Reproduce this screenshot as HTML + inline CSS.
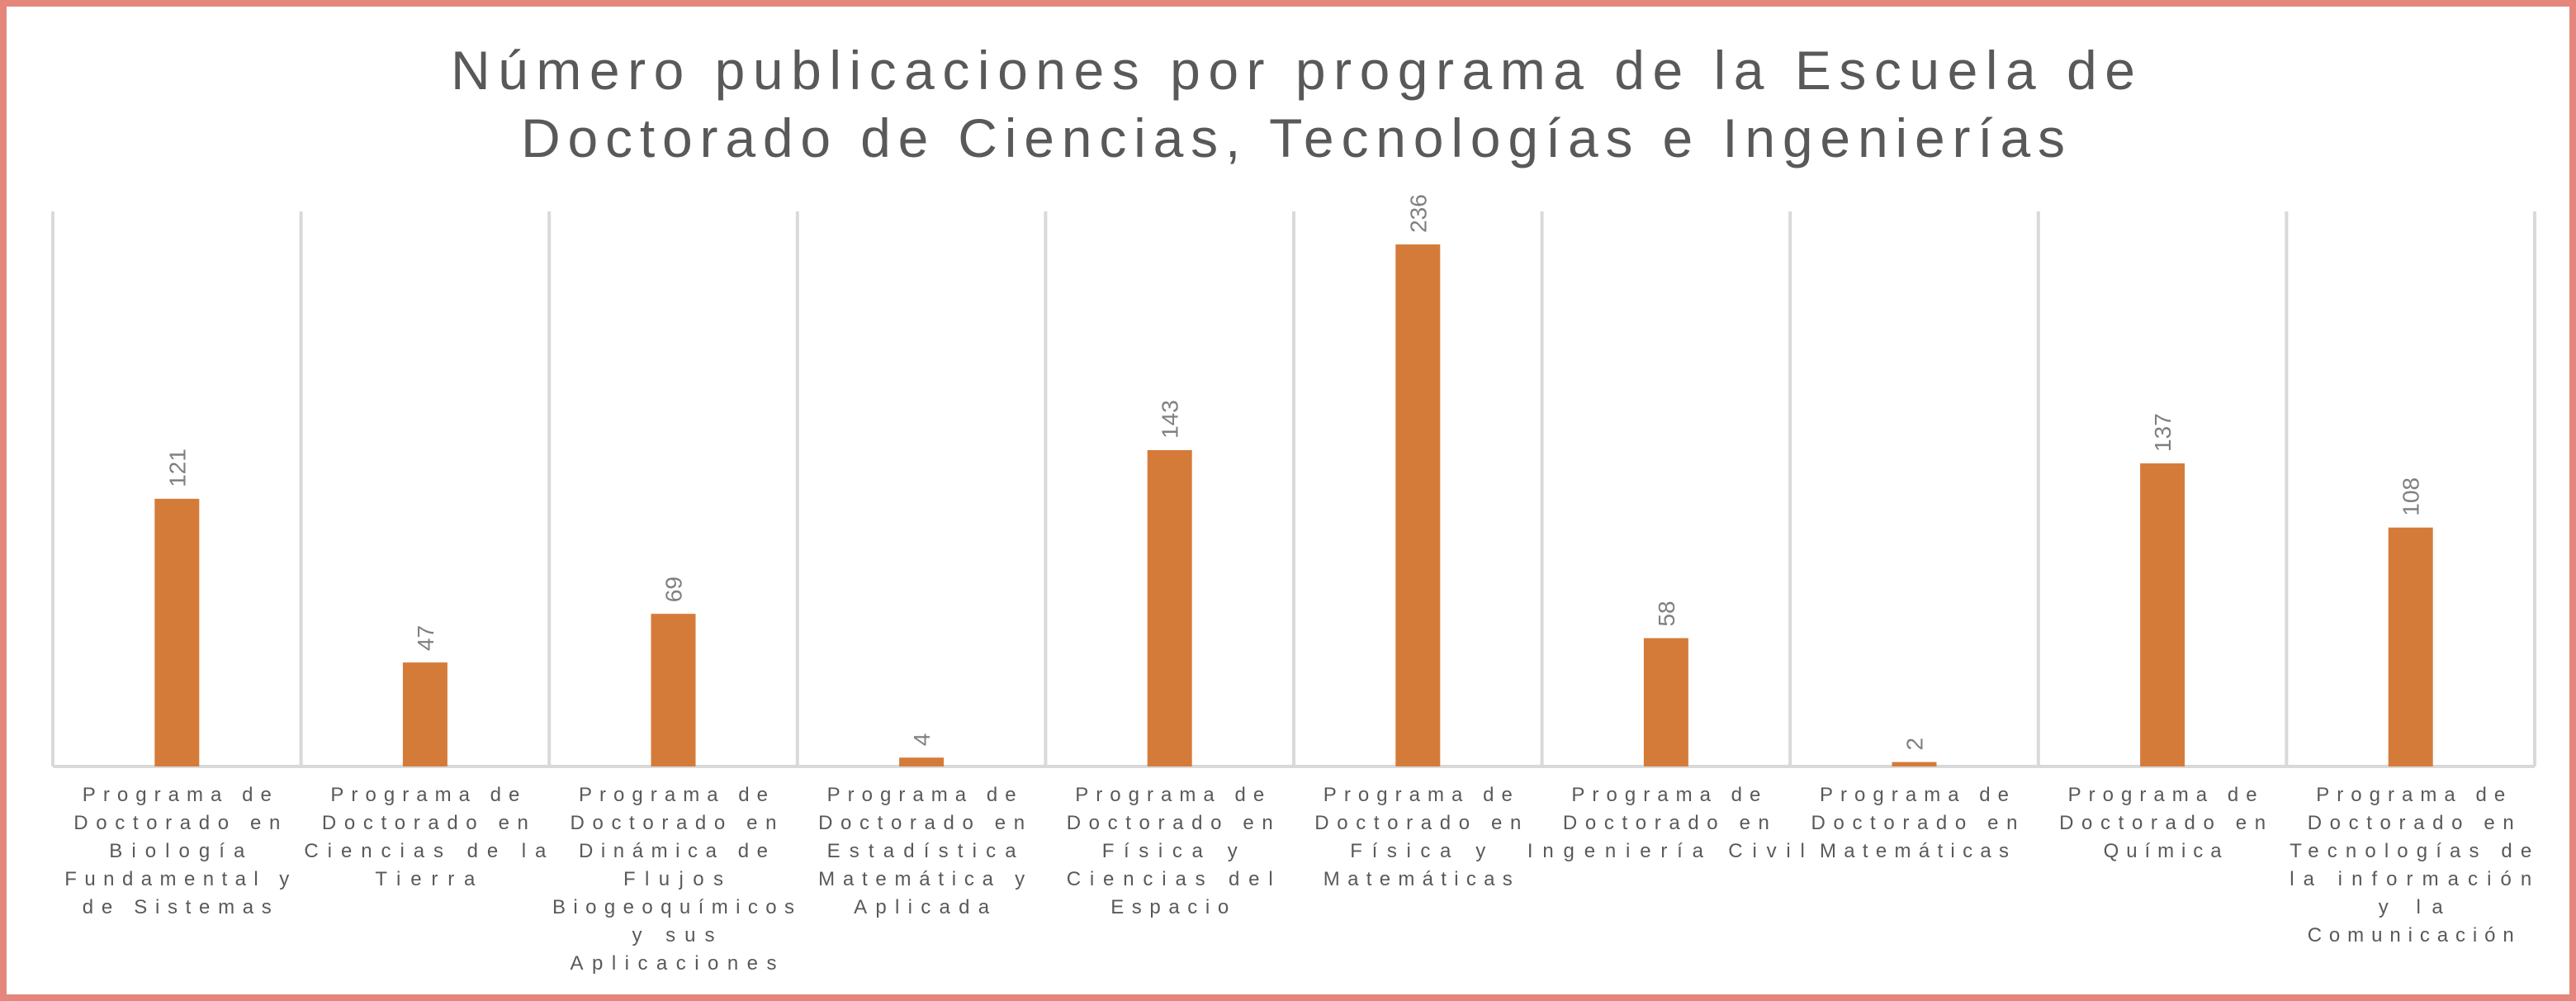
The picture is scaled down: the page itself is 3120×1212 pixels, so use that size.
<!DOCTYPE html>
<html><head><meta charset="utf-8"><style>
html,body{margin:0;padding:0;background:#fff;}
svg{display:block;}
</style></head><body>
<svg id="chart" width="3120" height="1212" viewBox="0 0 3120 1212" xmlns="http://www.w3.org/2000/svg" font-family="'Liberation Sans', sans-serif">
<rect x="4" y="4" width="3112" height="1204" fill="#fff" stroke="#e4867b" stroke-width="8"/>
<g fill="#595959" font-size="66" text-anchor="middle">
<text x="1566" y="108" textLength="2040" lengthAdjust="spacing">Número publicaciones por programa de la Escuela de</text>
<text x="1566" y="190" textLength="1870" lengthAdjust="spacing">Doctorado de Ciencias, Tecnologías e Ingenierías</text>
</g>
<g id="grid"></g>
<g id="bars"></g>
<g id="labels"></g>
</svg>
<script>
const categories = [
 ["Programa de","Doctorado en","Biología","Fundamental y","de Sistemas"],
 ["Programa de","Doctorado en","Ciencias de la","Tierra"],
 ["Programa de","Doctorado en","Dinámica de","Flujos","Biogeoquímicos","y sus","Aplicaciones"],
 ["Programa de","Doctorado en","Estadística","Matemática y","Aplicada"],
 ["Programa de","Doctorado en","Física y","Ciencias del","Espacio"],
 ["Programa de","Doctorado en","Física y","Matemáticas"],
 ["Programa de","Doctorado en","Ingeniería Civil"],
 ["Programa de","Doctorado en","Matemáticas"],
 ["Programa de","Doctorado en","Química"],
 ["Programa de","Doctorado en","Tecnologías de","la información","y la","Comunicación"]
];
const values = [121,47,69,4,143,236,58,2,137,108];
const valueLabels = ["121","47","69","4","143","236","58","2","137","108"];
const yMax = 250.9;

{
const NS="http://www.w3.org/2000/svg";
const plotLeft=64,plotRight=3070,plotTop=256,plotBase=928;
const step=(plotRight-plotLeft)/categories.length;
const xCenter=i=>plotLeft+step*(i+0.5);
const yScale=v=>plotBase-(v/yMax)*(plotBase-plotTop);
const grid=document.getElementById('grid');
const bars=document.getElementById('bars');
const labels=document.getElementById('labels');
function mk(tag,attrs){const e=document.createElementNS(NS,tag);for(const k in attrs)e.setAttribute(k,attrs[k]);return e;}
for(let i=0;i<=categories.length;i++){
 const x=plotLeft+step*i;
 const l=mk('line',{x1:x,x2:x,y1:plotTop,y2:plotBase,stroke:'#d9d9d9','stroke-width':4});
 
 
 grid.appendChild(l);
}
const ax=mk('line',{x1:plotLeft,x2:plotRight,y1:plotBase,y2:plotBase,stroke:'#d9d9d9','stroke-width':4});


grid.appendChild(ax);
values.forEach((v,i)=>{
 const cx=xCenter(i),y=yScale(v),w=54;
 const r=mk('rect',{x:cx-w/2,y:y,width:w,height:plotBase-y,fill:'#d57b3a'});
 
 
 bars.appendChild(r);
 const t=mk('text',{x:0,y:0,fill:'#7f7f7f','font-size':28,transform:`translate(${cx+10},${y-14}) rotate(-90)`});
 t.textContent=valueLabels[i];
 
 
 bars.appendChild(t);
});
categories.forEach((lines,i)=>{
 const g=mk('g',{});
 
 
 lines.forEach((s,j)=>{
  const t=mk('text',{x:xCenter(i),y:970+j*34,'text-anchor':'middle',fill:'#595959','font-size':24,textLength:Math.round(s.length*21.5-8),lengthAdjust:'spacing'});
  t.textContent=s;
  g.appendChild(t);
 });
 labels.appendChild(g);
});
}
</script>
</body></html>
